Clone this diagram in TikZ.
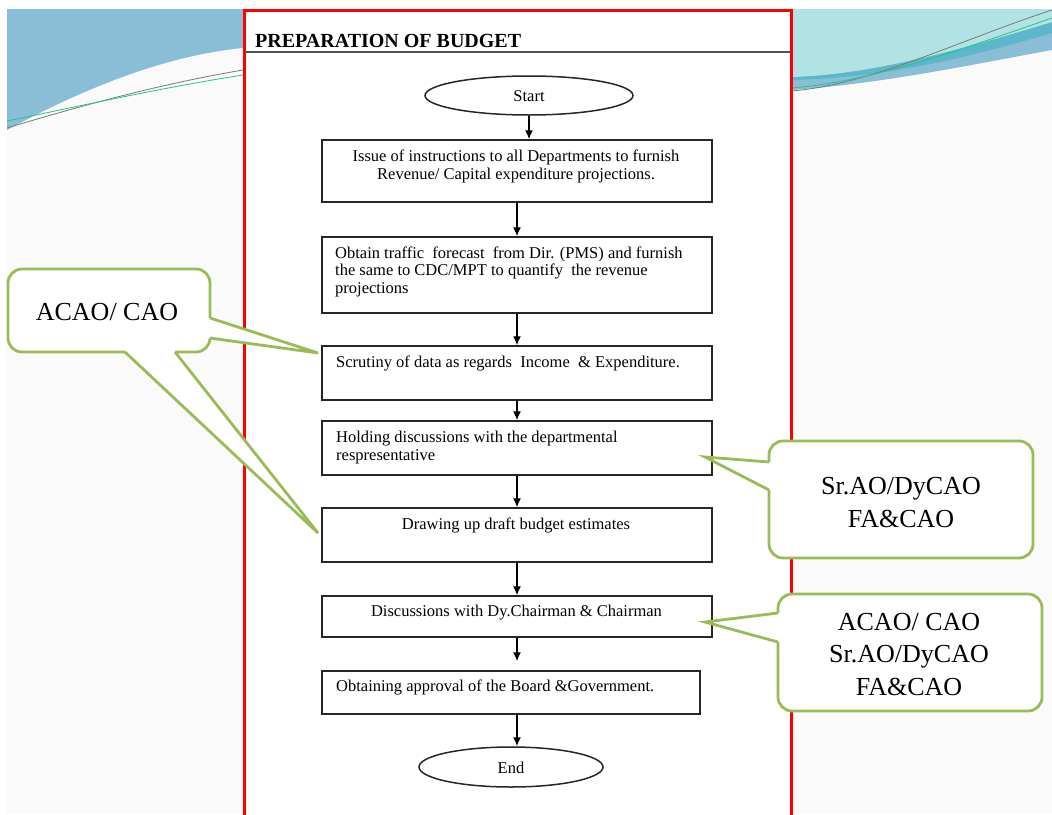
\documentclass[tikz,border=0pt]{standalone}
\usepackage{fontspec}
\setmainfont{Liberation Serif}
\usetikzlibrary{arrows.meta,shapes.geometric,calc}
\definecolor{slidebg}{HTML}{FAFAFA}
\definecolor{decoblue}{HTML}{89BED6}
\definecolor{decoteal}{HTML}{5DB6C9}
\definecolor{decolight}{HTML}{B1E2E4}
\definecolor{decogreen}{HTML}{1FC68E}
\definecolor{decogrey}{HTML}{7A7A7A}
\definecolor{callgreen}{HTML}{9BBB59}
\definecolor{framered}{HTML}{FF0000}
\definecolor{boxline}{HTML}{262626}
\begin{document}
\begin{tikzpicture}[x=1pt,y=-1pt,
  stepbox/.style={draw=boxline, line width=1.5pt, fill=white, rectangle, inner sep=0pt},
  term/.style={draw=boxline, line width=1.5pt, fill=white, ellipse, inner sep=0pt},
  txt/.style={inner sep=0pt, font=\fontsize{16.5}{20}\selectfont},
  calltxt/.style={inner sep=0pt, font=\fontsize{26}{30}\selectfont, anchor=base},
  flow/.style={draw=black, line width=1.4pt, -{Latex[length=9pt,width=8pt]}},
  callbox/.style={draw=callgreen, line width=2.8pt, fill=white, rounded corners=14pt},
  callside/.style={draw=callgreen, line width=2.8pt, line join=miter},
]
\useasboundingbox (0,0) rectangle (1052,814);
\fill[white] (0,0) rectangle (1052,814);
\fill[slidebg] (7,9) rectangle (1052,814);
% left decoration
\fill[decoblue] (7,9) -- (243,9) -- (243,48) .. controls (170,55) and (90,85) .. (7,130) -- cycle;
\draw[decogrey, line width=0.8pt] (7,128) .. controls (80,106) and (160,84) .. (243,70);
\draw[decogreen, line width=0.8pt] (7,121) .. controls (80,106) and (160,88) .. (243,75);
% right decoration
\fill[decoblue] (791,9) -- (1052,9) -- (1052,50) .. controls (970,65) and (880,84) .. (791,90) -- cycle;
\fill[decoteal] (791,9) -- (1052,9) -- (1052,33) .. controls (960,60) and (880,78) .. (791,80) -- cycle;
\fill[decolight] (791,9) -- (1052,9) -- (1052,22) .. controls (960,50) and (870,75) .. (791,77) -- cycle;
\draw[decogrey, line width=0.8pt] (791,91) .. controls (870,85) and (960,40) .. (1052,10);
\draw[decogreen, line width=0.8pt] (791,88) .. controls (870,82) and (960,50) .. (1052,18);
% frame
\fill[white] (244,10) rectangle (791,816);
\draw[framered, line width=3pt] (244,818) -- (244,10) -- (791,10) -- (791,818);
\node[anchor=base west, inner sep=0pt, font=\bfseries\fontsize{20}{24}\selectfont] (title) at (255,47) {PREPARATION OF BUDGET};
\draw[boxline!80, line width=1.3pt] (245,52) -- (790,52);
% flowchart
\node[term, minimum width=208pt, minimum height=39pt] (st) at (529,95.5) {};
\node[stepbox, minimum width=390pt, minimum height=62pt] (b1) at (517,171) {};
\node[stepbox, minimum width=390pt, minimum height=76pt] (b2) at (517,275) {};
\node[stepbox, minimum width=390pt, minimum height=54pt] (b3) at (517,373) {};
\node[stepbox, minimum width=390pt, minimum height=54pt] (b4) at (517,448) {};
\node[stepbox, minimum width=390pt, minimum height=54pt] (b5) at (517,535) {};
\node[stepbox, minimum width=390pt, minimum height=41pt] (b6) at (517,616.5) {};
\node[stepbox, minimum width=378pt, minimum height=43pt] (b7) at (511,692.5) {};
\node[term, minimum width=184pt, minimum height=40pt] (en) at (511,767) {};
% texts
\node[txt, anchor=base] (tst) at (529,101) {Start};
\node[txt, anchor=base] (t1a) at (516,161) {Issue of instructions to all Departments to furnish};
\node[txt, anchor=base] (t1b) at (516,179) {Revenue/ Capital expenditure projections.};
\node[txt, anchor=base west] (t2a) at (335,258) {Obtain traffic\ \ forecast\ \ from Dir. (PMS) and furnish};
\node[txt, anchor=base west] (t2b) at (335,275) {the same to CDC/MPT to quantify\ \ the revenue};
\node[txt, anchor=base west] (t2c) at (335,293) {projections};
\node[txt, anchor=base west] (t3) at (336,367) {Scrutiny of data as regards\ \ Income\ \ \& Expenditure.};
\node[txt, anchor=base west] (t4a) at (336,442) {Holding discussions with the departmental};
\node[txt, anchor=base west] (t4b) at (336,460) {respresentative};
\node[txt, anchor=base] (t5) at (516,529) {Drawing up draft budget estimates};
\node[txt, anchor=base] (t6) at (516.5,616) {Discussions with Dy.Chairman \& Chairman};
\node[txt, anchor=base west] (t7) at (336,691) {Obtaining approval of the Board \&Government.};
\node[txt, anchor=base] (ten) at (511,773) {End};
% connectors
\draw[flow] (st.south) -- (st.south |- b1.north);
\draw[flow] (b1.south) -- (b2.north);
\draw[flow] (b2.south) -- (b3.north);
\draw[flow] (b3.south) -- (b4.north);
\draw[flow] (b4.south) -- (b5.north);
\draw[flow] (b5.south) -- (b6.north);
\draw[flow] (b6.south) -- ($(b6.south |- b7.north)+(0,-9)$);
\draw[flow] (b6.south |- b7.south) -- (b6.south |- en.north);
% callout 1
\draw[callbox] (8,269) rectangle (210,352);
\fill[white] (210,318) -- (318,353) -- (210,338) -- (202,338) -- (202,318) -- cycle;
\draw[callside] (210,318) -- (318,353) -- (210,338);
\fill[white] (125,352) -- (318,533) -- (175,352) -- (175,344) -- (125,344) -- cycle;
\draw[callside] (125,352) -- (318,533) -- (175,352);
\node[calltxt] (c1a) at (107,320) {ACAO/ CAO};
% callout 2
\draw[callbox] (769,441) rectangle (1033,558);
\fill[white] (769,462) -- (705,457) -- (769,490) -- (777,490) -- (777,462) -- cycle;
\draw[callside] (769,462) -- (705,457) -- (769,490);
\node[calltxt] (c2a) at (901,494) {Sr.AO/DyCAO};
\node[calltxt] (c2b) at (901,527) {FA\&CAO};
% callout 3
\draw[callbox] (778,594) rectangle (1042,711);
\fill[white] (778,613) -- (705,622) -- (778,642) -- (786,642) -- (786,613) -- cycle;
\draw[callside] (778,613) -- (705,622) -- (778,642);
\node[calltxt] (c3a) at (909,630) {ACAO/ CAO};
\node[calltxt] (c3b) at (909,662) {Sr.AO/DyCAO};
\node[calltxt] (c3c) at (909,695) {FA\&CAO};
\end{tikzpicture}
\end{document}
